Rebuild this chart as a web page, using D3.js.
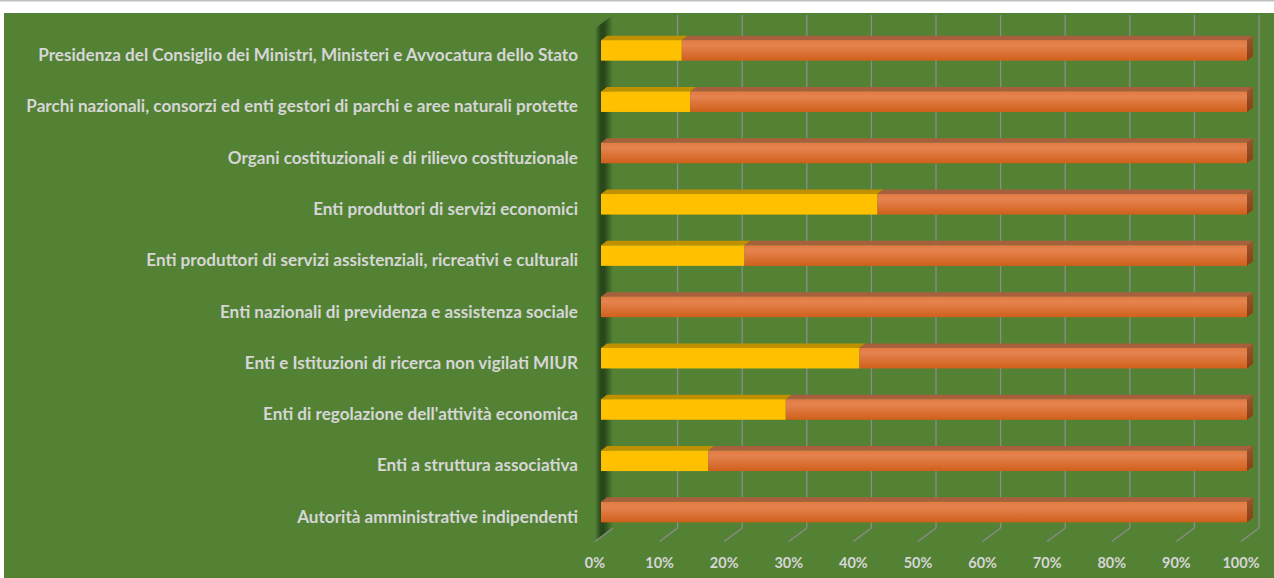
<!DOCTYPE html>
<html><head><meta charset="utf-8">
<script src="https://cdn.jsdelivr.net/npm/d3@7"></script>
<style>html,body{margin:0;padding:0;background:#fff;overflow:hidden}</style>
</head><body>
<svg id="c" width="1274" height="578"></svg>
<script>
const categories = [
  "Presidenza del Consiglio dei Ministri, Ministeri e Avvocatura dello Stato",
  "Parchi nazionali, consorzi ed enti gestori di parchi e aree naturali protette",
  "Organi costituzionali e di rilievo costituzionale",
  "Enti produttori di servizi economici",
  "Enti produttori di servizi assistenziali, ricreativi e culturali",
  "Enti nazionali di previdenza e assistenza sociale",
  "Enti e Istituzioni di ricerca non vigilati MIUR",
  "Enti di regolazione dell'attività economica",
  "Enti a struttura associativa",
  "Autorità amministrative indipendenti"
];
const yellowValues = [0.125, 0.138, 0, 0.428, 0.222, 0, 0.400, 0.286, 0.166, 0];
const orangeValues = [0.875, 0.862, 1, 0.572, 0.778, 1, 0.600, 0.714, 0.834, 1];
const tickValues = [0, 0.1, 0.2, 0.3, 0.4, 0.5, 0.6, 0.7, 0.8, 0.9, 1.0];

const svg = d3.select("#c");
const W = 1274, H = 578;
const defs = svg.append("defs");

const DX = 18, DY = -13.5;

svg.append("rect").attr("x",0).attr("y",0).attr("width",W).attr("height",1.5).attr("fill","#bfbfbf");
svg.append("rect").attr("x",4).attr("y",13).attr("width",W-4).attr("height",H-13).attr("fill","#548235");

const x = d3.scaleLinear().domain([0,1]).range([601,1247]);
const y = d3.scaleBand().domain(categories).range([24.75,537.75]).paddingInner(0.6).paddingOuter(0.3);

const floorFrontY = 541.5;
const floorBackY = floorFrontY + DY;
const wallTopBack = 15;

const wg = defs.append("linearGradient").attr("id","wallg").attr("x1","0").attr("x2","1").attr("y1","0").attr("y2","0");
wg.append("stop").attr("offset","0").attr("stop-color","#548235");
wg.append("stop").attr("offset","0.3").attr("stop-color","#2a4a1b");
wg.append("stop").attr("offset","0.5").attr("stop-color","#27461a");
wg.append("stop").attr("offset","1").attr("stop-color","#548235");

const fx = v => x(v) - 6;
const bx = v => x(v) - 6 + DX;

svg.append("path")
  .attr("d", `M${fx(0)},${wallTopBack - DY}L${bx(0)},${wallTopBack}L${bx(0)},${floorBackY}L${fx(0)},${floorFrontY}Z`)
  .attr("fill","url(#wallg)");

const grid = svg.append("g").attr("stroke","#8c8c8c").attr("stroke-width",1.3).attr("fill","none");
tickValues.forEach(t => {
  if (t > 0) grid.append("line").attr("x1",bx(t)).attr("x2",bx(t)).attr("y1",wallTopBack).attr("y2",floorBackY);
  grid.append("line").attr("x1",bx(t)).attr("y1",floorBackY).attr("x2",fx(t)).attr("y2",floorFrontY);
});

const og = defs.append("linearGradient").attr("id","orf").attr("x1","0").attr("x2","0").attr("y1","0").attr("y2","1");
og.append("stop").attr("offset","0").attr("stop-color","#e27a42");
og.append("stop").attr("offset","0.25").attr("stop-color","#e5834f");
og.append("stop").attr("offset","1").attr("stop-color","#d0601b");
const os = defs.append("linearGradient").attr("id","ors").attr("x1","0").attr("x2","0").attr("y1","0").attr("y2","1");
os.append("stop").attr("offset","0").attr("stop-color","#9c5530");
os.append("stop").attr("offset","1").attr("stop-color","#8a3f12");

const bdx = 6, bdy = -4.5;
const series = [
  {vals: yellowValues, front:"#ffc000", top:"#bf9000", side:"#bf9000"},
  {vals: orangeValues, front:"url(#orf)", top:"#a8603c", side:"url(#ors)"}
];

const bars = svg.append("g");
categories.forEach((c,i) => {
  const y0 = y(c), h = y.bandwidth();
  let acc = 0;
  series.forEach((s, si) => {
    const v = s.vals[i];
    if (v <= 0) return;
    const x0 = x(acc), x1 = x(acc + v);
    acc += v;
    const g = bars.append("g");
    g.append("path").attr("d",`M${x0},${y0}L${x1},${y0}L${x1+bdx},${y0+bdy}L${x0+bdx},${y0+bdy}Z`).attr("fill",s.top);
    g.append("rect").attr("x",x0).attr("y",y0).attr("width",x1-x0).attr("height",h).attr("fill",s.front);
    if (acc >= 0.999) {
      g.append("path").attr("d",`M${x1},${y0}L${x1+bdx},${y0+bdy}L${x1+bdx},${y0+h+bdy}L${x1},${y0+h}Z`).attr("fill",s.side);
    }
  });
});

const labels = svg.append("g").attr("font-family","Lato, 'Open Sans', sans-serif").attr("font-weight","bold").attr("fill","#d6d6d6").attr("text-anchor","end");
let fs = 16.5;
labels.attr("font-size", fs);
categories.forEach(c => {
  labels.append("text").attr("x",578).attr("y",y(c)+y.bandwidth()/2+10.6).text(c);
});
const lastNode = labels.selectAll("text").nodes()[categories.length-1];
const mw = lastNode.getComputedTextLength();
fs = fs * 281 / mw;
labels.attr("font-size", fs);

const tl = svg.append("g").attr("font-family","Lato, 'Open Sans', sans-serif").attr("font-weight","bold").attr("font-size",14.5).attr("fill","#d6d6d6").attr("text-anchor","middle");
tickValues.forEach(t => {
  tl.append("text").attr("x",fx(t)).attr("y",567.5).text(d3.format(".0%")(t));
});
</script>
</body></html>
